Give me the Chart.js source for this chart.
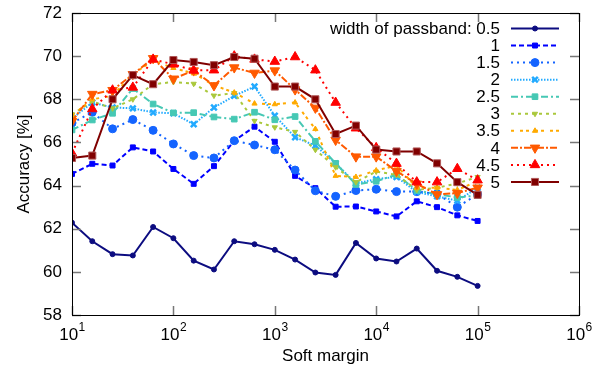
<!DOCTYPE html>
<html>
<head>
<meta charset="utf-8">
<script src="https://cdn.jsdelivr.net/npm/chart.js@4.4.1/dist/chart.umd.min.js"></script>
<style>
  html, body { margin: 0; padding: 0; background: #fff; }
  #wrap { width: 601px; height: 373px; }
</style>
</head>
<body>
<div id="wrap"><canvas id="chart-1"></canvas></div>
<script>
const softMargin = [10, 15.85, 25.12, 39.81, 63.1, 100, 158.5, 251.2, 398.1, 631, 1000,
  1585, 2512, 3981, 6310, 10000, 15849, 25119, 39811, 63096, 100000];
const passbands = ["width of passband: 0.5", "1", "1.5", "2", "2.5", "3", "3.5", "4", "4.5", "5"];
const xTicks = [10, 100, 1000, 10000, 100000, 1000000];

const acc_05 = [62.28, 61.42, 60.82, 60.76, 62.08, 61.56, 60.52, 60.11, 61.42, 61.28, 61.02, 60.57, 59.97, 59.86, 61.34, 60.62, 60.48, 61.08, 60.05, 59.77, 59.35];
const acc_1 = [64.54, 65.01, 64.93, 65.77, 65.58, 64.77, 64.08, 64.9, 66.08, 66.73, 66.03, 64.45, 63.88, 63.02, 63.03, 62.8, 62.57, 63.27, 63.0, 62.62, 62.36];
const acc_15 = [66.9, 67.4, 66.63, 67.06, 66.56, 65.93, 65.39, 65.28, 66.08, 65.88, 65.66, 64.72, 63.76, 63.5, 63.77, 63.83, 63.72, 63.72, 63.62, 63.0, 63.6];
const acc_2 = [67.1, 67.85, 67.62, 67.58, 67.39, 67.35, 66.84, 67.62, 68.16, 68.59, 67.24, 66.24, 65.85, 65.03, 64.1, 64.3, 64.4, 63.7, 63.5, 63.3, 63.9];
const acc_25 = [66.58, 67.04, 67.35, 68.5, 67.78, 67.37, 67.38, 67.18, 67.08, 67.4, 67.05, 67.2, 66.05, 65.03, 64.05, 64.2, 64.51, 63.77, 63.6, 63.45, 63.54];
const acc_3 = [67.3, 67.9, 67.58, 68.0, 68.7, 68.8, 68.72, 68.17, 68.29, 67.0, 66.7, 66.49, 65.66, 64.85, 64.16, 64.65, 64.5, 63.8, 63.9, 64.1, 64.4];
const acc_35 = [67.24, 68.0, 68.16, 69.16, 69.8, 69.45, 69.2, 68.65, 68.31, 67.8, 67.77, 67.85, 66.62, 64.45, 64.4, 64.7, 64.93, 63.9, 63.9, 63.8, 64.2];
const acc_4 = [66.98, 68.24, 68.42, 69.16, 69.9, 68.95, 69.33, 68.64, 69.47, 69.22, 69.33, 68.45, 67.6, 66.11, 65.34, 65.34, 64.67, 64.08, 63.59, 63.65, 63.9];
const acc_45 = [65.5, 67.55, 68.42, 68.55, 69.85, 69.62, 69.34, 69.35, 70.0, 69.85, 69.75, 69.96, 69.35, 67.85, 66.66, 65.75, 65.02, 64.16, 64.16, 64.78, 64.25];
const acc_5 = [65.28, 65.39, 68.0, 69.12, 68.7, 69.82, 69.73, 69.58, 69.96, 69.88, 68.59, 68.59, 68.0, 66.39, 66.78, 65.67, 65.58, 65.58, 65.03, 64.16, 63.57];

const series = [acc_05, acc_1, acc_15, acc_2, acc_25, acc_3, acc_35, acc_4, acc_45, acc_5];
const colors = ["#0c0c80", "#0000ff", "#1464ff", "#22aaff", "#46c8b4", "#aac83c", "#ffaa00", "#ff5a00", "#ff0000", "#800000"];
const dashes = [[], [5, 3], [2, 4], [1.5, 1.5], [7, 3, 2, 3], [3, 4], [3, 6, 3, 3], [7, 2, 2, 2], [2, 4], []];
const styles = ["circle", "rect", "circle", "crossRot", "rect", "triangle", "triangle", "triangle", "triangle", "rect"];
const radii = [2.5, 3.5, 4, 4, 4, 3, 3, 5.5, 5.5, 5];
const rotations = [0, 0, 0, 0, 0, 180, 0, 180, 0, 0];

const FONT = "'Liberation Sans', Arial, Helvetica, sans-serif";

const datasets = series.map((vals, i) => ({
  label: passbands[i],
  data: vals.map((v, k) => ({ x: softMargin[k], y: v })),
  borderColor: colors[i],
  backgroundColor: colors[i],
  borderWidth: 2,
  borderDash: dashes[i],
  pointStyle: styles[i],
  pointRadius: radii[i],
  pointRotation: rotations[i],
  pointBorderWidth: styles[i] === "crossRot" ? 2.5 : 1,
  pointBorderColor: i === 9 ? "#b05858" : colors[i],
  tension: 0,
  order: 9 - i,
}));

const framePlugin = {
  id: "frame",
  afterDatasetsDraw(chart) {
    const { ctx, chartArea: a, scales } = chart;
    ctx.save();
    ctx.strokeStyle = "#777";
    ctx.lineWidth = 1.5;
    ctx.beginPath();
    scales.x.ticks.forEach((t) => {
      const px = Math.round(scales.x.getPixelForValue(t.value)) + 0.5;
      ctx.moveTo(px, a.bottom); ctx.lineTo(px, a.bottom - 9);
      ctx.moveTo(px, a.top); ctx.lineTo(px, a.top + 9);
    });
    scales.y.ticks.forEach((t) => {
      const py = Math.round(scales.y.getPixelForValue(t.value)) + 0.5;
      ctx.moveTo(a.left, py); ctx.lineTo(a.left + 9, py);
      ctx.moveTo(a.right, py); ctx.lineTo(a.right - 9, py);
    });
    ctx.stroke();
    ctx.strokeStyle = "#000";
    ctx.lineWidth = 1;
    ctx.strokeRect(Math.round(a.left) + 0.5, Math.round(a.top) + 0.5,
      Math.round(a.right - a.left), Math.round(a.bottom - a.top));

    // x tick labels as 10 with superscript exponent
    ctx.fillStyle = "#000";
    ctx.textBaseline = "alphabetic";
    scales.x.ticks.forEach((t) => {
      const px = scales.x.getPixelForValue(t.value);
      const exp = String(Math.round(Math.log10(t.value)));
      ctx.font = "17px " + FONT;
      const w1 = ctx.measureText("10").width;
      ctx.font = "12px " + FONT;
      const w2 = ctx.measureText(exp).width;
      const x0 = px - (w1 + w2) / 2;
      ctx.font = "17px " + FONT;
      ctx.textAlign = "left";
      ctx.fillText("10", x0, a.bottom + 25);
      ctx.font = "12px " + FONT;
      ctx.fillText(exp, x0 + w1 + 0.5, a.bottom + 16);
    });

    // legend, text right aligned with samples on the right
    chart.data.datasets.forEach((ds, i) => {
      const y = 28.5 + 17.05 * i;
      ctx.font = "17px " + FONT;
      ctx.textAlign = "right";
      ctx.textBaseline = "middle";
      ctx.fillStyle = "#000";
      ctx.fillText(ds.label, 500, y + 1);
      ctx.strokeStyle = ds.borderColor;
      ctx.lineWidth = ds.borderWidth;
      ctx.setLineDash(ds.borderDash);
      ctx.beginPath();
      ctx.moveTo(511, y); ctx.lineTo(559, y);
      ctx.stroke();
      ctx.setLineDash([]);
      ctx.fillStyle = ds.backgroundColor;
      ctx.strokeStyle = ds.pointBorderColor;
      ctx.lineWidth = ds.pointBorderWidth;
      Chart.helpers.drawPoint(ctx, {
        pointStyle: ds.pointStyle, radius: ds.pointRadius, rotation: ds.pointRotation, borderWidth: ds.pointBorderWidth,
      }, 535, y);
    });
    ctx.restore();
  },
};

new Chart(document.getElementById("chart-1"), {
  type: "line",
  data: { datasets: datasets },
  plugins: [framePlugin],
  options: {
    responsive: true,
    maintainAspectRatio: false,
    animation: false,
    layout: { padding: { top: 13, right: 22, left: 0, bottom: 0 } },
    plugins: {
      legend: { display: false },
      tooltip: { enabled: false },
    },
    scales: {
      x: {
        type: "logarithmic",
        min: 10,
        max: 1000000,
        afterBuildTicks: (s) => { s.ticks = xTicks.map((v) => ({ value: v })); },
        afterFit: (s) => { s.height = 58; s.paddingLeft = 0; s.paddingRight = 0; },
        grid: { display: false, drawTicks: false },
        border: { display: false },
        ticks: { display: false },
        title: {
          display: true,
          text: "Soft margin",
          color: "#000",
          font: { family: FONT, size: 17 },
          padding: { top: 0, bottom: 6 },
        },
      },
      y: {
        min: 58,
        max: 72,
        afterFit: (s) => { s.width = 72; s.paddingTop = 0; s.paddingBottom = 0; },
        grid: { display: false, drawTicks: false },
        border: { display: false },
        ticks: {
          stepSize: 2,
          padding: 10,
          color: "#000",
          font: { family: FONT, size: 17 },
        },
        title: {
          display: true,
          text: "Accuracy [%]",
          color: "#000",
          font: { family: FONT, size: 17 },
          padding: { top: 14, bottom: 0 },
        },
      },
    },
  },
});
</script>
</body>
</html>
